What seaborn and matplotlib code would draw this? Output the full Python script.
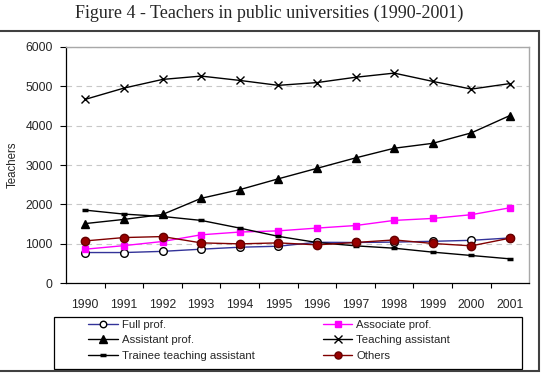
import pandas
import seaborn
from matplotlib import pyplot as plt
from matplotlib.patches import Rectangle

years = ['1990', '1991', '1992', '1993', '1994', '1995', '1996', '1997', '1998', '1999', '2000', '2001']

full_prof = [780, 780, 810, 865, 915, 940, 1040, 1035, 1045, 1065, 1090, 1150]
associate_prof = [865, 955, 1060, 1230, 1300, 1330, 1400, 1465, 1595, 1645, 1740, 1915]
assistant_prof = [1515, 1620, 1745, 2155, 2375, 2650, 2915, 3180, 3425, 3550, 3815, 4255]
teaching_assistant = [4665, 4950, 5170, 5255, 5145, 5020, 5090, 5225, 5330, 5120, 4925, 5065]
trainee_assistant = [1855, 1755, 1695, 1595, 1400, 1190, 1035, 950, 890, 790, 705, 620]
others = [1075, 1160, 1185, 1025, 1000, 1025, 975, 1035, 1100, 1010, 950, 1145]

series_names = ['Full prof.', 'Associate prof.', 'Assistant prof.', 'Teaching assistant',
                'Trainee teaching assistant', 'Others']
series_values = [full_prof, associate_prof, assistant_prof, teaching_assistant, trainee_assistant, others]

# line colour, marker, marker face, marker edge, marker size
styles = {
    'Full prof.': ('#333399', 'o', 'white', 'black', 5.5),
    'Associate prof.': ('#ff00ff', 's', '#ff00ff', '#ff00ff', 5),
    'Assistant prof.': ('black', '^', 'black', 'black', 6),
    'Teaching assistant': ('black', 'x', 'black', 'black', 6),
    'Trainee teaching assistant': ('black', '_', 'black', 'black', 5),
    'Others': ('#800000', 'o', '#990000', '#660000', 6),
}

rows = []
for name, vals in zip(series_names, series_values):
    for i, v in enumerate(vals):
        rows.append({'series': name, 'pos': i, 'teachers': v})
df = pandas.DataFrame(rows)

seaborn.set_style('white')
plt.rcParams['font.family'] = ['Liberation Sans', 'DejaVu Sans']

fig = plt.figure(figsize=(5.43, 3.74), dpi=100)
ax = fig.add_axes([66 / 543, 1 - 283.3 / 374, (529.3 - 66) / 543, (283.3 - 46.7) / 374])

handles = {}
for name in series_names:
    color, marker, mfc, mec, ms = styles[name]
    sub = df[df.series == name]
    mew = 2.5 if marker == '_' else 1
    seaborn.lineplot(x='pos', y='teachers', data=sub, ax=ax, color=color, lw=1,
                     marker=marker, markersize=ms, markerfacecolor=mfc,
                     markeredgecolor=mec, markeredgewidth=mew, label=name, legend=False)
    handles[name] = ax.lines[-1]

ax.set_xlim(-0.5, len(years) - 0.5)
ax.set_ylim(0, 6000)
ax.set_yticks(range(0, 6001, 1000))
ax.set_xticks(range(len(years)))
ax.set_xticklabels(years)
ax.set_xticks([i + 0.5 for i in range(len(years) - 1)], minor=True)
ax.tick_params(axis='x', which='major', length=0, pad=11, labelsize=8.8)
ax.tick_params(axis='x', which='minor', length=3.5, width=0.8, direction='out', bottom=True, color='black')
ax.tick_params(axis='y', length=4, width=0.8, direction='out', left=True, pad=5.5, labelsize=8.8, color='black')
ax.set_xlabel(None)
ax.set_ylabel('Teachers', fontsize=8.3, labelpad=5)
ax.yaxis.grid(True, linestyle=(0, (5, 4)), color='#c8c8c8', lw=0.8)
ax.xaxis.grid(False)
for side in ['left', 'bottom']:
    ax.spines[side].set_color('black')
    ax.spines[side].set_linewidth(0.9)
for side in ['top', 'right']:
    ax.spines[side].set_color('#a8a8a8')
    ax.spines[side].set_linewidth(1)

order = ['Full prof.', 'Assistant prof.', 'Trainee teaching assistant',
         'Associate prof.', 'Teaching assistant', 'Others']
fig.legend([handles[n] for n in order], order, ncol=2, frameon=False,
           loc='upper left', bbox_to_anchor=(88 / 543, 1 - 319.5 / 374),
           fontsize=8.2, handlelength=2.6, handletextpad=0.35, columnspacing=6.0,
           labelspacing=0.5, borderpad=0, borderaxespad=0, markerscale=0.85)

# legend box and outer chart frame
fig.add_artist(Rectangle((54 / 543, 1 - 369.3 / 374), (522 - 54) / 543, (369.3 - 317.3) / 374,
                         transform=fig.transFigure, fill=False, edgecolor='black', lw=0.9))
fig.add_artist(Rectangle((-10 / 543, 1 - 370.5 / 374), 549 / 543, (370.5 - 31) / 374,
                         transform=fig.transFigure, fill=False, edgecolor='#404040', lw=1.5))

fig.text(0.496, 1 - 13 / 374, 'Figure 4 - Teachers in public universities (1990-2001)',
         ha='center', va='center', family='Liberation Serif', fontsize=13)

plt.savefig('out.png', dpi=100)
